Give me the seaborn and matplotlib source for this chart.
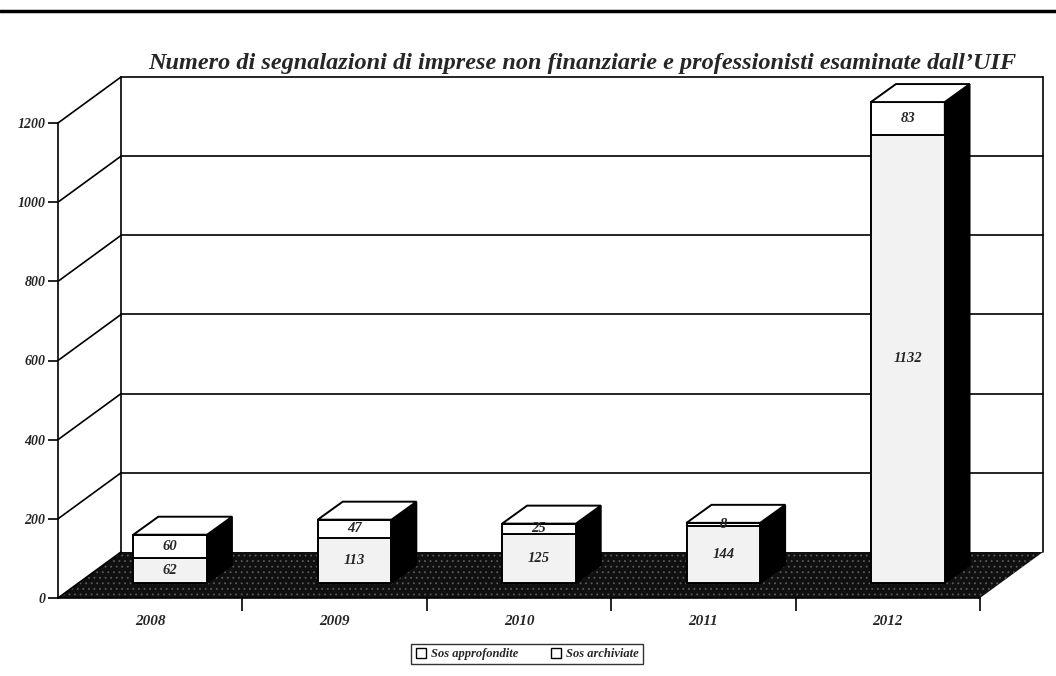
import pandas as pd
import seaborn as sns
import matplotlib.pyplot as plt
from matplotlib.patches import Polygon, Patch
from matplotlib.lines import Line2D

years = ["2008", "2009", "2010", "2011", "2012"]
sos_approfondite = [62, 113, 125, 144, 1132]
sos_archiviate = [60, 47, 25, 8, 83]
y_ticks = [0, 200, 400, 600, 800, 1000, 1200]
title = "Numero di segnalazioni di imprese non finanziarie e professionisti esaminate dall\u2019UIF"

W, H = 1056, 676
sns.set_theme(style="white")
plt.rcParams["font.family"] = ["Liberation Serif", "DejaVu Serif"]
plt.rcParams["font.style"] = "italic"
plt.rcParams["font.weight"] = "bold"
plt.rcParams["hatch.linewidth"] = 0.6

fig = plt.figure(figsize=(W / 100, H / 100), dpi=100)

# front plane of the fake 3d box (pixels)
left, right, base, top = 58, 980, 598, 123
ax = fig.add_axes([left / W, 1 - base / H, (right - left) / W, (base - top) / H])
ax.patch.set_visible(False)

df = pd.DataFrame({"anno": years, "approfondite": sos_approfondite, "archiviate": sos_archiviate})
df["totale"] = df["approfondite"] + df["archiviate"]

sns.barplot(data=df, x="anno", y="totale", color="white", width=0.4, edgecolor="black",
            linewidth=1.4, saturation=1, ax=ax, zorder=5)
n_top = len(ax.patches)
sns.barplot(data=df, x="anno", y="approfondite", color="#f2f2f2", width=0.4, edgecolor="black",
            linewidth=1.4, saturation=1, ax=ax, zorder=6)
ax.set_xlim(-0.5, len(years) - 0.5)
ax.set_ylim(0, y_ticks[-1])

# data units per pixel
ux = (len(years)) / (right - left)
uy = y_ticks[-1] / (base - top)


def px(x, y, dx, dy):
    return (x + dx * ux, y + dy * uy)


# floor and back wall
fdx, fdy = 63, 46
x0, x1 = -0.5, len(years) - 0.5
floor = Polygon([(x0, 0), (x1, 0), px(x1, 0, fdx, fdy), px(x0, 0, fdx, fdy)], closed=True,
                facecolor="#101010", edgecolor="#5a5a5a", hatch="...", lw=0, zorder=1, clip_on=False)
ax.add_patch(floor)
lk = dict(color="black", lw=1.2, zorder=2, clip_on=False)
for v in y_ticks:
    a = px(x0, v, fdx, fdy)
    b = px(x1, v, fdx, fdy)
    if v > 0:
        ax.plot([a[0], b[0]], [a[1], b[1]], **lk)
    ax.plot([x0, a[0]], [v, a[1]], **lk)
for xx in (x0, x1):
    a = px(xx, 0, fdx, fdy)
    b = px(xx, y_ticks[-1], fdx, fdy)
    ax.plot([a[0], b[0]], [a[1], b[1]], **lk)

# bars: shift into the box and add side / top faces
bx, by = 20, 15
ddx, ddy = 25, 18
for i, p in enumerate(ax.patches[:]):
    if p is floor:
        continue
    p.set_x(p.get_x() + bx * ux)
    p.set_y(p.get_y() + by * uy)
    p.set_clip_on(False)
    if i < n_top:
        xa, xb = p.get_x(), p.get_x() + p.get_width()
        ya, yb = p.get_y(), p.get_y() + p.get_height()
        side = Polygon([(xb, ya), (xb, yb), px(xb, yb, ddx, ddy), px(xb, ya, ddx, ddy)],
                       closed=True, facecolor="black", edgecolor="black", lw=1.2, zorder=5, clip_on=False)
        topf = Polygon([(xa, yb), (xb, yb), px(xb, yb, ddx, ddy), px(xa, yb, ddx, ddy)],
                       closed=True, facecolor="white", edgecolor="black", lw=1.4, zorder=5, clip_on=False)
        ax.add_patch(side)
        ax.add_patch(topf)

# value labels
for i in range(len(years)):
    cx = i + bx * ux
    a, b = sos_approfondite[i], sos_archiviate[i]
    ax.text(cx, a / 2 + by * uy, str(a), ha="center", va="center", fontsize=10.5, zorder=8)
    ax.text(cx, a + b / 2 + by * uy, str(b), ha="center", va="center", fontsize=10.5, zorder=8)

# axes
for s in ("top", "right"):
    ax.spines[s].set_visible(False)
ax.spines["left"].set_color("black")
ax.spines["left"].set_linewidth(1.2)
ax.spines["bottom"].set_color("black")
ax.spines["bottom"].set_linewidth(1.2)
ax.set_yticks(y_ticks)
ax.set_yticklabels([str(v) for v in y_ticks])
ax.tick_params(axis="y", left=True, direction="out", length=7, width=1.2, color="black",
               labelsize=10, pad=2)
ax.set_xticks(range(len(years)))
ax.set_xticklabels(years)
ax.set_xticks([i + 0.5 for i in range(len(years))], minor=True)
ax.tick_params(axis="x", which="major", bottom=False, labelsize=11, pad=6)
ax.tick_params(axis="x", which="minor", bottom=True, direction="out", length=9, width=1.2, color="black")
ax.set_xlabel("")
ax.set_ylabel("")

fig.text(582 / W, 1 - 63 / H, title, ha="center", va="center", fontsize=17.5)
fig.add_artist(Line2D([0, 1], [1 - 11 / H] * 2, color="black", lw=2.5))

handles = [Patch(facecolor="white", edgecolor="black", label="Sos approfondite"),
           Patch(facecolor="white", edgecolor="black", label="Sos archiviate")]
leg = fig.legend(handles=handles, ncol=2, loc="center", bbox_to_anchor=(527 / W, 1 - 654 / H),
                 frameon=True, fancybox=False, fontsize=9, handlelength=0.8, handleheight=0.8,
                 handletextpad=0.4, columnspacing=2.6, borderpad=0.35)
leg.get_frame().set_edgecolor("black")
leg.get_frame().set_linewidth(1.0)

fig.savefig("out.png", dpi=100)
